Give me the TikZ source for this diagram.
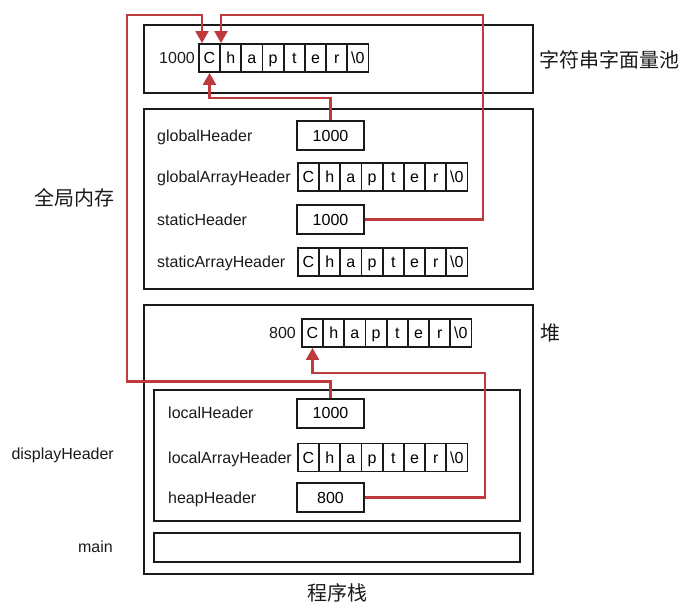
\documentclass[tikz,border=0pt]{standalone}
\usepackage{fontspec}
\setmainfont{Liberation Sans}
\newfontfamily\cjk{Noto Sans CJK SC}
\usetikzlibrary{arrows.meta,positioning}
\definecolor{cInk}{HTML}{1A1A1A}
\definecolor{cRed}{HTML}{BE3A3C}
\newcommand{\lbl}{\fontsize{16}{18}\selectfont}
\tikzset{
  region/.style={draw=cInk,line width=2.2pt,anchor=north west,inner sep=0pt},
  valbox/.style={draw=cInk,line width=2pt,minimum width=67pt,minimum height=29pt,inner sep=0pt,font=\lbl,
    text height=11.5pt,text depth=0.5pt},
  cell/.style={draw=cInk,line width=1.8pt,minimum width=21.2pt,minimum height=28pt,inner sep=0pt,anchor=west,font=\lbl,
    text height=11.5pt,text depth=0.5pt},
  vname/.style={anchor=west,inner sep=0pt,font=\lbl,text=cInk,text height=11.5pt,text depth=0.5pt},
  zone/.style={inner sep=0pt,font=\cjk\fontsize{20}{24}\selectfont,text=cInk},
  ptr/.style={-{Triangle[length=12pt,width=13pt]},line width=2.2pt,color=cRed},
}
% one char array: name, left x, centre y
\newcommand{\chararr}[3]{%
  \foreach \ch [count=\i] in {C,h,a,p,t,e,r,\textbackslash0}
    \node[cell] (#1-\i) at ({#2+(\i-1)*21.2},#3) {\ch};}

\begin{document}
\begin{tikzpicture}[x=1pt,y=-1pt]
  \useasboundingbox (0,0) rectangle (700,614);

  % memory regions
  \node[region,minimum width=389pt,minimum height=68pt] (pool) at (143,24) {};
  \node[region,minimum width=389pt,minimum height=180pt] (glob) at (143,108) {};
  \node[region,minimum width=389pt,minimum height=269pt] (heap) at (143,304) {};
  \node[region,minimum width=366pt,minimum height=131pt] (disp) at (153,389) {};
  \node[region,minimum width=366pt,minimum height=29pt] (mainf) at (153,532) {};

  % region labels
  \node[zone,anchor=west] (tpool) at (539,60) {字符串字面量池};
  \node[zone] (tglob) at (74,198) {全局内存};
  \node[zone,anchor=west] (theap) at (540,333) {堆};
  \node[zone] (tstack) at (337,593) {程序栈};
  \node[vname,anchor=east] (tdisp) at (114,454) {displayHeader};
  \node[vname,anchor=east] (tmain) at (113,547) {main};

  % string literal pool
  \node[vname,anchor=east] (paddr) at (195,58) {1000};
  \chararr{pool}{198}{58}

  % global memory
  \node[vname] (gname) at (157,135.5) {globalHeader};
  \node[valbox] (gv) at (330.5,135.5) {1000};
  \node[vname] (ganame) at (157,177) {globalArrayHeader};
  \chararr{garr}{297}{177}
  \node[vname] (sname) at (157,219.5) {staticHeader};
  \node[valbox] (sv) at (330.5,219.5) {1000};
  \node[vname] (saname) at (157,262) {staticArrayHeader};
  \chararr{sarr}{297}{262}

  % heap
  \node[vname,anchor=east] (haddr) at (296,333) {800};
  \chararr{heap}{301}{333}

  % displayHeader frame
  \node[vname] (lname) at (168,413) {localHeader};
  \node[valbox] (lv) at (330.5,413) {1000};
  \node[vname] (laname) at (168,457.5) {localArrayHeader};
  \chararr{larr}{297}{457.5}
  \node[vname] (hname) at (168,497.5) {heapHeader};
  \node[valbox] (hv) at (330.5,497.5) {800};

  % pointers
  \coordinate (lx) at (127,15);
  \coordinate (rx) at (483,15);
  \coordinate (hx) at (485,373);
  \draw[ptr] (lv.north) -- ++(0,-16) -| (lx) -| ([xshift=4pt]pool-1.north west);
  \draw[ptr] (sv.east) -| (rx) -| (pool-1.north east);
  \draw[ptr] (gv.north) -- ++(0,-22) -| (pool-1.south);
  \draw[ptr] (hv.east) -| (hx) -| (heap-1.south);
\end{tikzpicture}
\end{document}
